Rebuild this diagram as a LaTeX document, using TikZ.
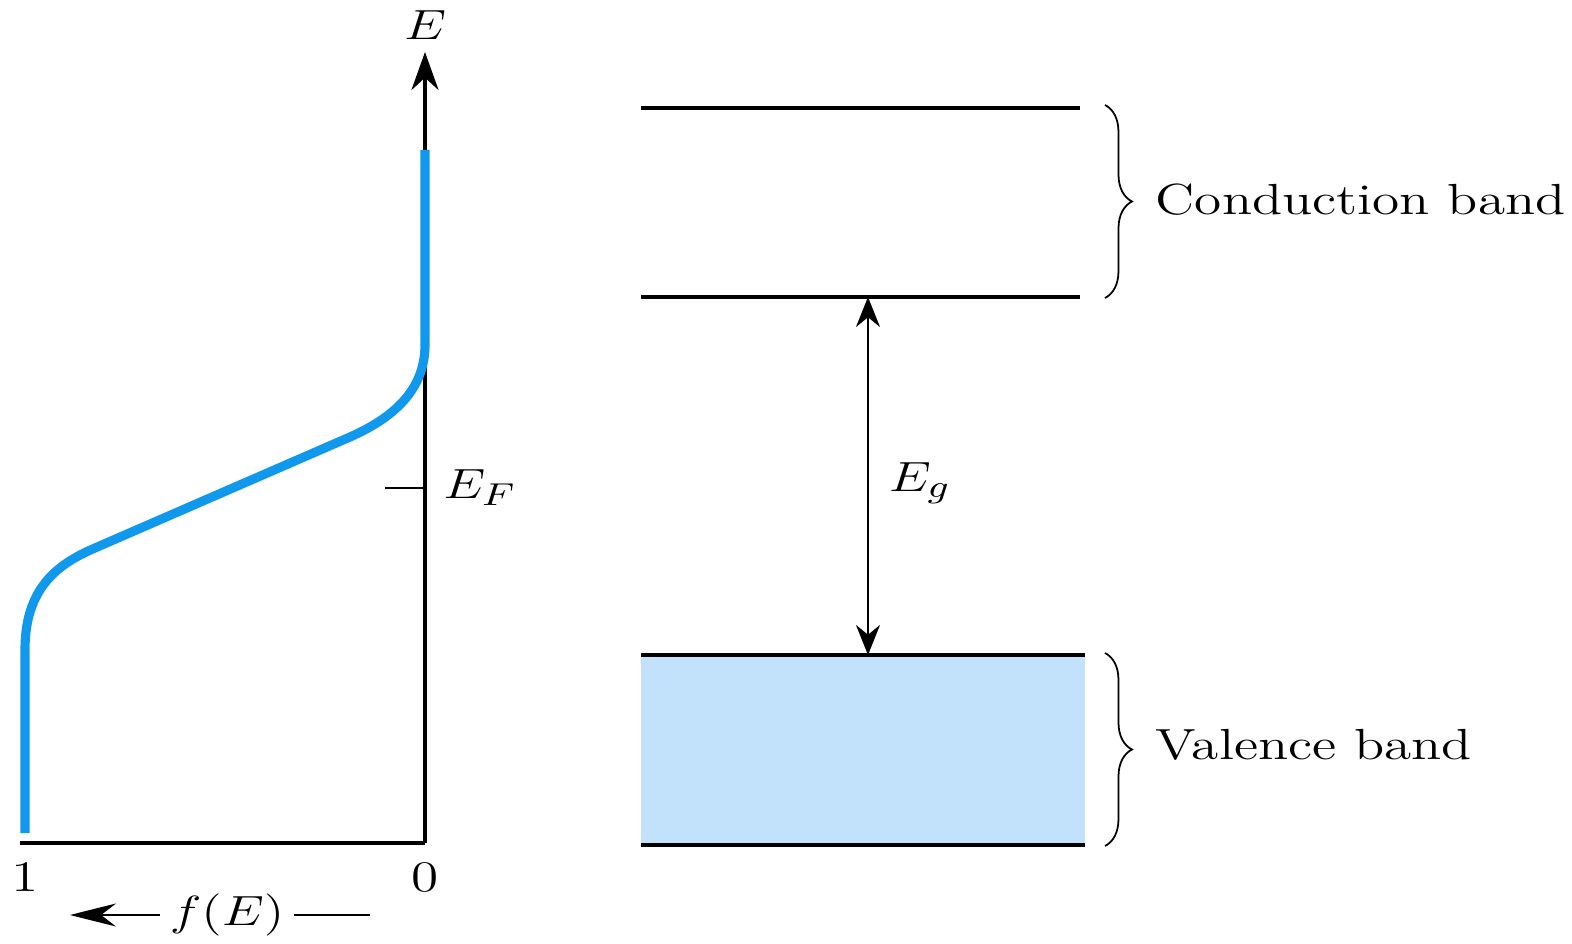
\documentclass[tikz,border=0pt]{standalone}
\usepackage{tikz}
\usetikzlibrary{arrows.meta,decorations.pathreplacing,positioning,calc}

\definecolor{fermiblue}{RGB}{16,152,236}
\definecolor{bandfill}{RGB}{194,226,252}

\begin{document}
\begin{tikzpicture}[
  axis/.style={line width=1.2pt},
  bandline/.style={line width=1.1pt},
  lbl/.style={font=\fontsize{12.4}{14}\selectfont, xscale=1.27, inner sep=2pt},
  brc/.style={decorate, decoration={brace, amplitude=0.27cm}, line width=0.5pt}
]
\useasboundingbox (0,0) rectangle (15.72,9.43);

% f(E) axes
\coordinate (o1) at (0.20,1.00);
\coordinate (o0) at (4.25,1.00);
\coordinate (etip) at (4.25,8.91);
\draw[axis] (o1) -- (o0);
\draw[axis, -{Stealth[length=3.8mm,width=2.7mm]}] (o0) -- (etip);
\node[lbl] (elab) at (4.25,9.18) {$E$};

% Fermi function
\draw[fermiblue, line width=2.6pt] (0.25,1.10) -- (0.25,2.93)
  .. controls (0.25,3.53) and (0.55,3.78) .. (0.95,3.95) -- (3.50,5.06)
  .. controls (4.00,5.28) and (4.25,5.58) .. (4.25,5.98) -- (4.25,7.93);

% Fermi level
\coordinate (ftick) at (3.85,4.55);
\draw[line width=0.5pt] (ftick) -- (ftick -| o0);
\node[lbl] (eflab) at (4.80,4.55) {$E_F$};

\node[lbl] (one) at (0.25,0.66) {1};
\node[lbl] (zero) at (4.25,0.66) {0};

\node[lbl] (fe) at (2.27,0.28) {$f(E)$};
\coordinate (fleft) at (0.70,0.28);
\coordinate (fright) at (3.70,0.28);
\draw[line width=0.6pt, -{Stealth[length=4.6mm,width=2.3mm]}] (fe.west) -- (fleft);
\draw[line width=0.6pt] (fe.east) -- (fright);

% bands
\coordinate (cbtl) at (6.41,8.35);
\coordinate (cbtr) at (10.80,8.35);
\coordinate (cbbl) at (6.41,6.46);
\coordinate (cbbr) at (10.80,6.46);
\coordinate (vbtl) at (6.41,2.88);
\coordinate (vbbr) at (10.85,0.98);

\fill[bandfill] (vbtl) rectangle (vbbr);
\draw[bandline] (cbtl) -- (cbtr);
\draw[bandline] (cbbl) -- (cbbr);
\draw[bandline] (vbtl) -- (vbtl -| vbbr);
\draw[bandline] (vbtl |- vbbr) -- (vbbr);

% gap
\draw[line width=0.6pt, {Stealth[length=3mm,width=2.4mm]}-{Stealth[length=3mm,width=2.4mm]}]
  (8.68,6.46) -- (8.68,2.88);
\node[lbl] (eglab) at (9.20,4.60) {$E_g$};

% braces
\draw[brc] (11.05,8.38) -- (11.05,6.45);
\draw[brc] (11.05,2.90) -- (11.05,0.97);
\node[lbl, anchor=west] (cblab) at (11.46,7.43) {Conduction band};
\node[lbl, anchor=west] (vblab) at (11.46,1.98) {Valence band};

\end{tikzpicture}
\end{document}
